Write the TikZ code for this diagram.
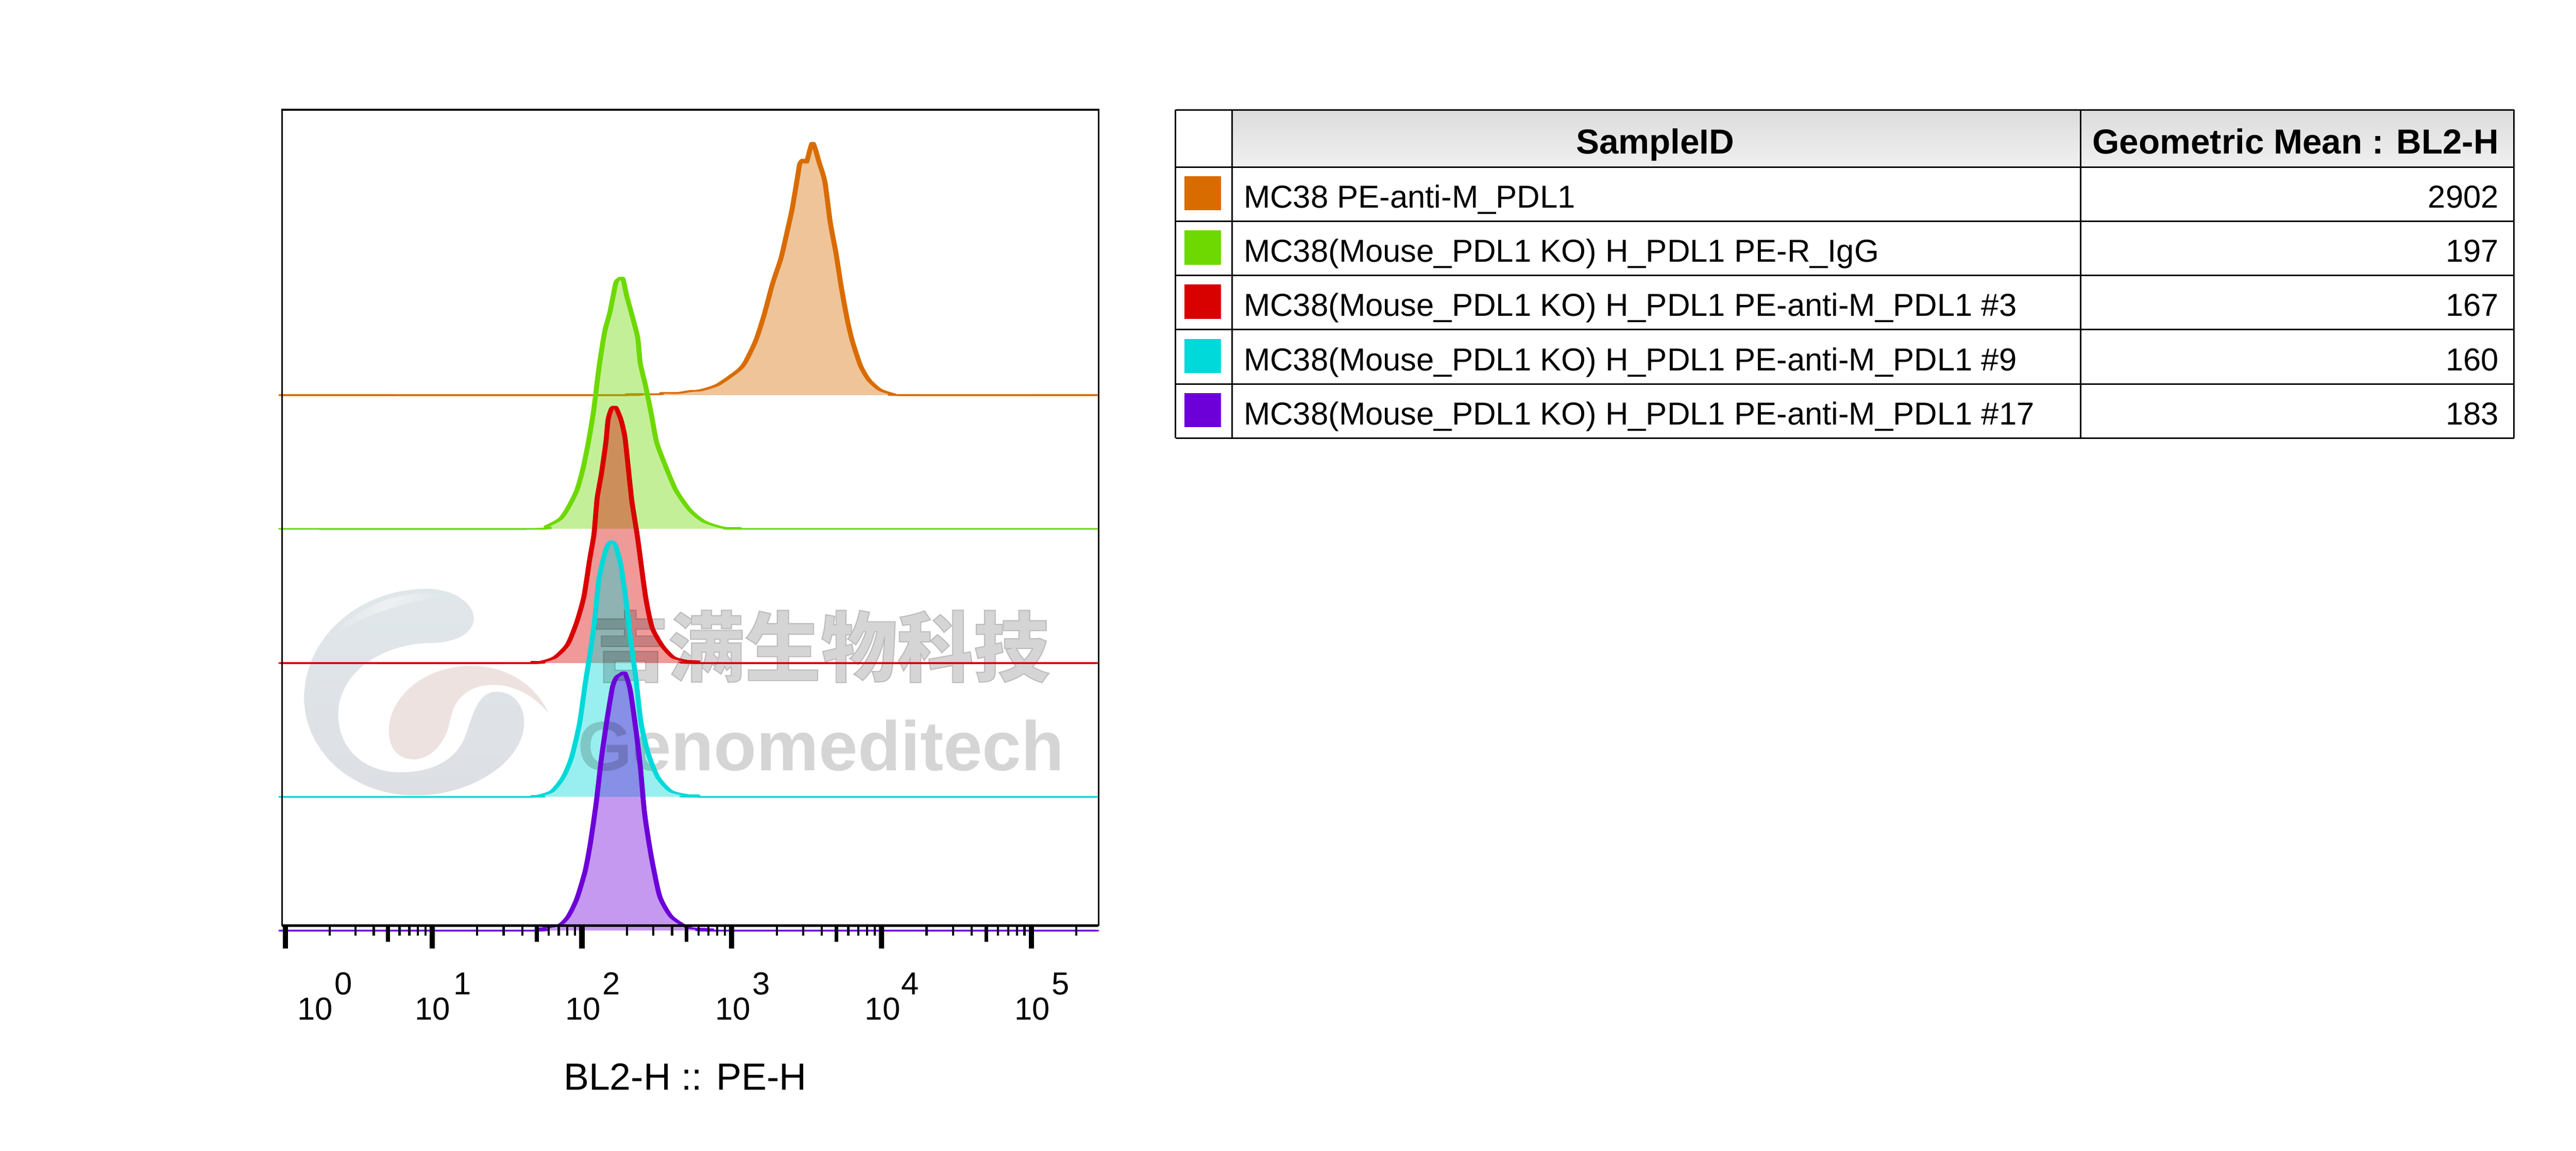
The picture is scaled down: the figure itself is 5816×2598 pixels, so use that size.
\documentclass[tikz,border=0pt]{standalone}
\usepackage{fontspec}
\setmainfont{Liberation Sans}
\newfontfamily\cjkfont{Noto Sans CJK SC}[BoldFeatures={FakeBold=1.5}]
\usetikzlibrary{fadings}
\definecolor{morange}{HTML}{D96C00}
\definecolor{mgreen}{HTML}{6DD900}
\definecolor{mred}{HTML}{D90000}
\definecolor{mcyan}{HTML}{00D9D9}
\definecolor{mpurple}{HTML}{6D00D9}
\definecolor{logotop}{HTML}{E0E7EA}
\definecolor{logobot}{HTML}{DDDFE4}
\definecolor{logopink}{HTML}{EEE2E0}
\definecolor{headtop}{HTML}{DCDCDC}
\definecolor{headbot}{HTML}{F0F0F0}
\tikzset{
  txt/.style = {inner sep=0pt, outer sep=0pt, font=\fontsize{20.4}{24}\selectfont},
  rowtxt/.style = {txt, anchor=base west},
  valtxt/.style = {txt, anchor=base east},
  headtxt/.style = {txt, anchor=base, font=\fontsize{22.3}{26}\selectfont\bfseries},
  axtxt/.style = {txt, anchor=base},
  grid/.style = {black, line width=0.35mm},
  curveline/.style = {line width=0.33mm, line join=round},
  wmark/.style = {inner sep=0pt, outer sep=0pt, text=black, text opacity=0.165, anchor=base}
}
\tikzfading[name=hilite, left color=transparent!100, right color=transparent!100, middle color=transparent!55]
% curves, one per sample, in picture units
\def\curveorange{plot [smooth, tension=0.4] coordinates {(633,892) (1412,892) (1421,890) (1494,890) (1500,887) (1537,887) (1562,883) (1587,881) (1625,869) (1669,839) (1687,820) (1712,769) (1731,711) (1750,641) (1769,584) (1781,533) (1794,475) (1806,405) (1812,370) (1820,360) (1827,367) (1841,322) (1856,367) (1869,411) (1881,501) (1894,571) (1906,647) (1919,718) (1931,769) (1950,826) (1969,858) (1994,880) (2025,890) (2044,892) (2487,892)}}
\def\curvegreen{plot [smooth, tension=0.4] coordinates {(633,1194) (1206,1194) (1237,1188) (1269,1171) (1287,1145) (1306,1107) (1319,1062) (1331,1005) (1344,928) (1356,832) (1369,750) (1381,705) (1394,641) (1400,631) (1410,628) (1419,667) (1431,711) (1444,762) (1450,820) (1462,871) (1475,935) (1487,998) (1506,1049) (1531,1107) (1562,1151) (1594,1177) (1637,1191) (1675,1192) (1684,1194) (2487,1194)}}
\def\curvered{plot [smooth, tension=0.4] coordinates {(633,1497) (1200,1497) (1206,1494) (1225,1494) (1256,1484) (1285,1455) (1306,1404) (1322,1347) (1335,1264) (1345,1205) (1352,1126) (1362,1068) (1372,998) (1377,947) (1385,922) (1394,919) (1406,947) (1415,986) (1422,1049) (1431,1132) (1444,1215) (1462,1347) (1477,1417) (1500,1458) (1525,1484) (1556,1492) (1581,1493) (1590,1497) (2487,1497)}}
\def\curvecyan{plot [smooth, tension=0.4] coordinates {(633,1799) (1200,1799) (1206,1797) (1221,1796) (1250,1786) (1275,1755) (1294,1710) (1312,1634) (1325,1544) (1337,1468) (1346,1404) (1356,1308) (1369,1251) (1377,1229) (1385,1222) (1394,1232) (1406,1277) (1419,1366) (1427,1436) (1440,1532) (1452,1634) (1469,1704) (1490,1755) (1519,1786) (1556,1795) (1581,1796) (1590,1799) (2487,1799)}}
\def\curvepurple{plot [smooth, tension=0.4] coordinates {(633,2101) (1206,2101) (1219,2097) (1244,2093) (1269,2087) (1287,2068) (1306,2029) (1325,1966) (1337,1902) (1350,1812) (1362,1710) (1375,1621) (1387,1551) (1396,1529) (1406,1522) (1415,1519) (1427,1557) (1440,1647) (1450,1730) (1460,1838) (1475,1934) (1494,2023) (1519,2068) (1550,2090) (1569,2096) (1612,2098) (1625,2101) (2487,2101)}}
\newcommand{\histfill}[2]{\fill [#2, fill opacity=0.4] #1 -- cycle;}
\newcommand{\histline}[2]{%
  \foreach \dx in {-4,-2,0,2,4}
    \draw [curveline, #2, xshift=\dx*0.1mm] #1;}

\begin{document}
\begin{tikzpicture}[x=0.1mm,y=-0.1mm]
  \fill [white] (0,0) rectangle (5816,2598);
  \useasboundingbox (0,0) rectangle (5816,2598);
  % logo
  \begin{scope}[shift={(660,1300)},xscale=0.35714,yscale=0.34439]
    \shade [top color=logotop, bottom color=logobot] (850,85) .. controls (1020,85) and (1147,180) .. (1147,280)
      .. controls (1147,370) and (1040,440) .. (870,440)
      .. controls (540,450) and (290,650) .. (290,910)
      .. controls (290,1130) and (450,1288) .. (680,1288)
      .. controls (900,1288) and (1060,1200) .. (1110,1000)
      .. controls (1160,840) and (1200,760) .. (1295,760)
      .. controls (1390,760) and (1465,840) .. (1465,960)
      .. controls (1465,1220) and (1130,1440) .. (780,1440)
      .. controls (380,1440) and (75,1150) .. (75,800)
      .. controls (75,400) and (430,85) .. (850,85) -- cycle;
    \fill [white, path fading=hilite] (960,130) .. controls (800,95) and (480,110) .. (220,430)
      .. controls (400,260) and (700,180) .. (960,130) -- cycle;
    \fill [logopink] (1130,590) .. controls (1340,590) and (1530,700) .. (1620,900)
      .. controls (1520,780) and (1400,715) .. (1270,715)
      .. controls (1130,715) and (1040,790) .. (1010,900)
      .. controls (985,980) and (990,1000) .. (970,1040)
      .. controls (930,1130) and (860,1203) .. (765,1203)
      .. controls (670,1203) and (610,1130) .. (610,1020)
      .. controls (610,790) and (840,590) .. (1130,590) -- cycle;
  \end{scope}
  \begin{scope}[x=0.09949mm,xshift=0.306mm]
    % histograms
    \histfill{\curveorange}{morange}
    \histline{\curveorange}{morange}
    \histfill{\curvegreen}{mgreen}
    \histline{\curvegreen}{mgreen}
    \histfill{\curvered}{mred}
    \histfill{\curvecyan}{mcyan}
    \histfill{\curvepurple}{mpurple}
    % watermark text
    \node [wmark, font=\cjkfont\bfseries\fontsize{49}{52}\selectfont] (wmcn) at (1860,1525) {吉满生物科技};
    \node [wmark, font=\fontsize{45}{50}\selectfont\bfseries] (wmen) at (1860,1739) {Genomeditech};
    \histline{\curvered}{mred}
    \histline{\curvecyan}{mcyan}
    \histline{\curvepurple}{mpurple}
    % frame and ticks
    \draw [black, line width=0.4mm] (637,2090) -- (637,248) -- (2490,248) -- (2490,2090);
    \draw [black, line width=0.55mm] (637,2090) -- (2490,2090);
    \foreach \s/\w in {645/332.5,977.5/340,1317.5/340,1657.5/340,1997.5/340} {
      \draw [black, line width=1.2mm] (\s,2090) -- (\s,2141);
      \draw [black, line width=0.85mm] ({\s+\w*log10(5)},2090) -- ({\s+\w*log10(5)},2126);
      \foreach \m in {2,3,4,6,7,8,9}
        \draw [black, line width=0.5mm] ({\s+\w*log10(\m)},2090) -- ({\s+\w*log10(\m)},2112);
    }
    \draw [black, line width=1.2mm] (2337.5,2090) -- (2337.5,2141);
    \draw [black, line width=0.5mm] (2439.5,2090) -- (2439.5,2112);
    \foreach \i/\xa/\xb in {0/712/776,1/979/1046,2/1320/1384,3/1660/1725,4/2000/2062,5/2340/2404} {
      \node [axtxt] (ten\i) at (\xa,2303) {10};
      \node [axtxt] (exp\i) at (\xb,2245) {\i};
    }
    \node [txt, anchor=base, font=\fontsize{24.3}{28}\selectfont] (xlabel) at (1552,2461) {BL2-H :: PE-H};
  \end{scope}
  % table
  \begin{scope}[x=0.09945mm,xshift=1.44mm]
    \shade [top color=headtop, bottom color=headbot] (2783,248) rectangle (5693,377);
    \foreach \y in {248,377,499.5,622,744.3,866.6,989}
      \draw [grid] (2654,\y) -- (5693,\y);
    \foreach \x in {2654,2783,4709,5693}
      \draw [grid] (\x,248) -- (\x,989);
    \node [headtxt] (hsample) at (3743,347) {SampleID};
    \node [headtxt, anchor=base east] (hmean) at (5658,347) {Geometric Mean : BL2-H};
    \foreach \i/\col/\name/\val in {
        0/morange/{MC38 PE-anti-M\_PDL1}/2902,
        1/mgreen/{MC38(Mouse\_PDL1 KO) H\_PDL1 PE-R\_IgG}/197,
        2/mred/{MC38(Mouse\_PDL1 KO) H\_PDL1 PE-anti-M\_PDL1 \#3}/167,
        3/mcyan/{MC38(Mouse\_PDL1 KO) H\_PDL1 PE-anti-M\_PDL1 \#9}/160,
        4/mpurple/{MC38(Mouse\_PDL1 KO) H\_PDL1 PE-anti-M\_PDL1 \#17}/183} {
      \fill [\col] (2674,398+122.3*\i) rectangle (2757,475+122.3*\i);
      \node [rowtxt] (name\i) at (2809,469.5+122.3*\i) {\name};
      \node [valtxt] (val\i) at (5658,469.5+122.3*\i) {\val};
    }
  \end{scope}
\end{tikzpicture}
\end{document}
